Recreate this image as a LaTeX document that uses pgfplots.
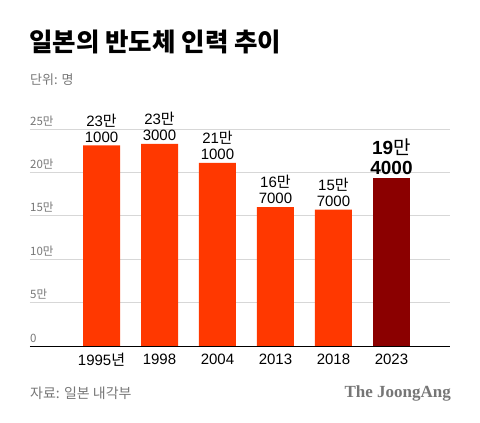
\documentclass[border=0pt]{standalone}
\usepackage{fontspec}
\setmainfont{Noto Sans CJK KR}
\newfontfamily\latin{Liberation Sans}
\newfontfamily\brand{Liberation Serif}
\usepackage{pgfplots}
\pgfplotsset{compat=1.18}
\definecolor{barred}{RGB}{255,56,0}
\definecolor{bardark}{RGB}{139,0,0}
\definecolor{gridgray}{RGB}{215,215,215}
\definecolor{txtgray}{RGB}{118,118,118}
\newcommand\vlab[2]{#1{\normalfont 만}\\#2}
\begin{document}
\begin{tikzpicture}
\useasboundingbox (0,0) rectangle (480pt,423pt);
\node[anchor=west, inner sep=0pt, font=\bfseries\fontsize{25.5}{28}\selectfont] at (29pt,381pt) {일본의 반도체 인력 추이};
\node[anchor=west, inner sep=0pt, text=txtgray, font=\fontsize{13}{15}\selectfont] at (30pt,343pt) {단위: 명};
\node[anchor=west, inner sep=0pt, text=txtgray, font=\fontsize{14}{16}\selectfont] at (30pt,30pt) {자료: 일본 내각부};
\node[anchor=east, inner sep=0pt, text=txtgray, font=\brand\bfseries\fontsize{17}{19}\selectfont] at (451pt,30pt) {The JoongAng};
\begin{axis}[
    at={(30pt,77pt)}, anchor=south west,
    scale only axis, width=420pt, height=217pt,
    xmin=-1.233, xmax=6.009, ymin=0, ymax=250000,
    ybar, bar width=37pt, bar shift=0pt,
    clip=false,
    axis x line*=bottom, axis y line*=left,
    y axis line style={draw=none},
    x axis line style={black, line width=0.8pt, -},
    major tick length=0pt,
    xtick={0,...,5},
    xticklabels={1995{\normalfont 년},1998,2004,2013,2018,2023},
    xticklabel style={font=\latin\fontsize{15}{17}\selectfont, yshift=-4pt},
    scaled y ticks=false,
    ytick={0,50000,100000,150000,200000,250000},
    yticklabels={0,5만,10만,15만,20만,25만},
    yticklabel style={anchor=south west, inner sep=0pt, xshift=0pt, yshift=3pt,
        text=txtgray, font=\fontsize{11.5}{13}\selectfont},
    ymajorgrids=true,
    grid style={gridgray, line width=0.6pt},
    point meta=explicit symbolic,
    nodes near coords,
    every node near coord/.append style={align=center, anchor=south, inner sep=0pt, yshift=3pt},
]
\addplot[fill=barred, draw=none,
    every node near coord/.append style={font=\latin\fontsize{15}{16}\selectfont}]
    coordinates {
    (0,231000) [\vlab{23}{1000}]
    (1,233000) [\vlab{23}{3000}]
    (2,211000) [\vlab{21}{1000}]
    (3,160000) [\vlab{16}{7000}]
    (4,157000) [\vlab{15}{7000}]
};
\addplot[fill=bardark, draw=none,
    every node near coord/.append style={font=\latin\bfseries\fontsize{19}{19.5}\selectfont}]
    coordinates {
    (5,194000) [\vlab{19}{4000}]
};
\end{axis}
\end{tikzpicture}
\end{document}
